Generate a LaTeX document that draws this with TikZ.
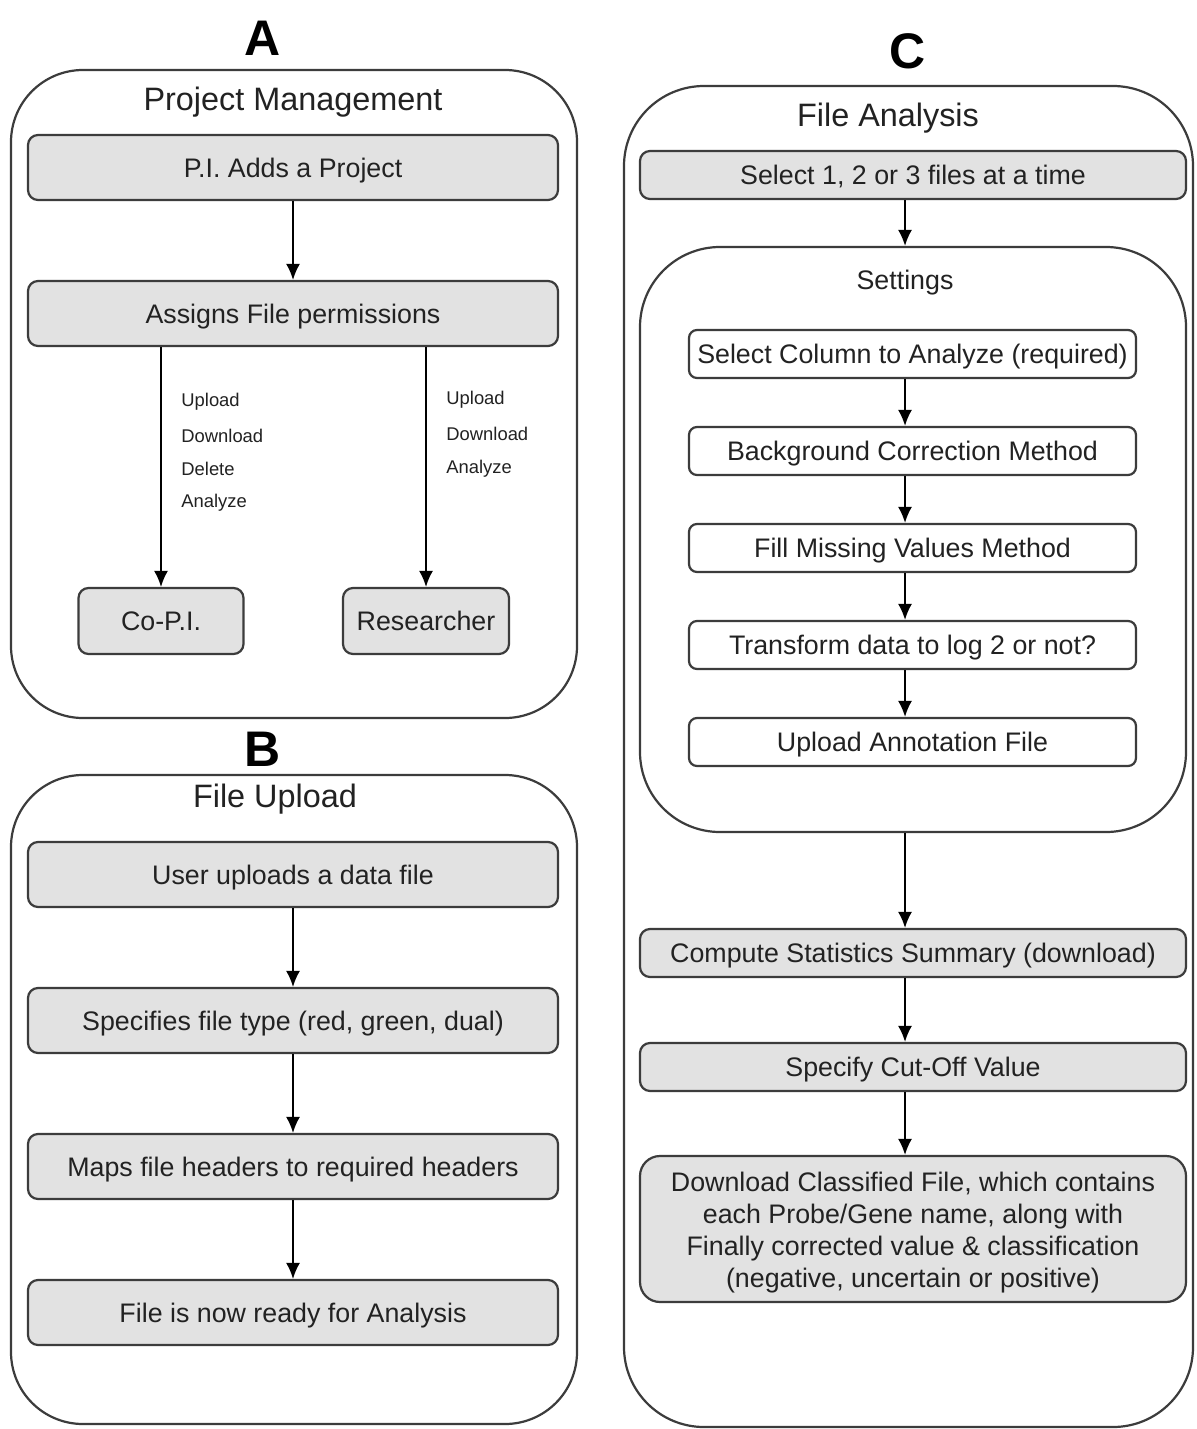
\documentclass[tikz,border=0pt]{standalone}
\usepackage{fontspec}
\setmainfont{Liberation Sans}
\usetikzlibrary{arrows.meta}
\definecolor{linec}{HTML}{3C3C3C}
\definecolor{boxfill}{HTML}{E2E2E2}
\definecolor{txt}{HTML}{222222}
\tikzset{
  panel/.style={draw=linec, line width=1.1pt, rounded corners=36pt, inner sep=0pt},
  setpanel/.style={draw=linec, line width=1.1pt, rounded corners=40pt, inner sep=0pt},
  graybase/.style={draw=linec, fill=boxfill, line width=1.1pt, rounded corners=5pt, inner sep=0pt, text=txt, font=\fontsize{13.4}{16}\selectfont, align=center},
  graybox/.style={graybase, text height=9.6pt, text depth=0pt},
  whitebox/.style={draw=linec, fill=white, line width=1.1pt, rounded corners=4pt, inner sep=0pt, text=txt, font=\fontsize{13.4}{16}\selectfont, text height=9.6pt, text depth=0pt},
  ptitle/.style={text=txt, font=\fontsize{16.2}{19}\selectfont, inner sep=0pt},
  stitle/.style={text=txt, font=\fontsize{13.4}{16}\selectfont, inner sep=0pt},
  letter/.style={text=black, font=\fontsize{25}{30}\selectfont\bfseries, inner sep=0pt},
  perm/.style={text=txt, font=\fontsize{9.2}{11}\selectfont, inner sep=0pt, anchor=west},
  arr/.style={draw=black, line width=0.9pt, -{Latex[length=8pt,width=7pt]}}
}
\begin{document}
\begin{tikzpicture}[x=0.5pt,y=-0.5pt]
\useasboundingbox (0,0) rectangle (1196,1429);
\fill[white] (0,0) rectangle (1196,1429);

% ---------------- Panel A ----------------
\node[letter] (labA) at (263,38) {A};
\node[panel, minimum width=283pt, minimum height=324pt] (boxA) at (294,394) {};
\node[ptitle] (titA) at (293,102) {Project Management};
\node[graybox, minimum width=265pt, minimum height=32.5pt] (pi) at (293,167.5) {P.I. Adds a Project};
\node[graybox, minimum width=265pt, minimum height=32.5pt] (assign) at (293,313.5) {Assigns File permissions};
\node[graybox, minimum width=82.5pt, minimum height=33pt] (copi) at (161,621) {Co-P.I.};
\node[graybox, minimum width=83pt, minimum height=33pt] (res) at (426,621) {Researcher};
\draw[arr] (pi.south) -- (assign.north);
\draw[arr] (copi.north |- assign.south) -- (copi.north);
\draw[arr] (res.north |- assign.south) -- (res.north);
\node[perm] (p1) at (181,402) {Upload};
\node[perm] (p2) at (181,436) {Download};
\node[perm] (p3) at (181,469) {Delete};
\node[perm] (p4) at (181,503) {Analyze};
\node[perm] (q1) at (446,400) {Upload};
\node[perm] (q2) at (446,434) {Download};
\node[perm] (q3) at (446,469) {Analyze};

% ---------------- Panel B ----------------
\node[letter] (labB) at (263,749) {B};
\node[panel, minimum width=283pt, minimum height=324.5pt] (boxB) at (294,1099.5) {};
\node[ptitle] (titB) at (275,799) {File Upload};
\node[graybox, minimum width=265pt, minimum height=32.5pt] (b1) at (293,874.5) {User uploads a data file};
\node[graybox, minimum width=265pt, minimum height=32.5pt] (b2) at (293,1020.5) {Specifies file type (red, green, dual)};
\node[graybox, minimum width=265pt, minimum height=32.5pt] (b3) at (293,1166.5) {Maps file headers to required headers};
\node[graybox, minimum width=265pt, minimum height=32.5pt] (b4) at (293,1312.5) {File is now ready for Analysis};
\draw[arr] (b1.south) -- (b2.north);
\draw[arr] (b2.south) -- (b3.north);
\draw[arr] (b3.south) -- (b4.north);

% ---------------- Panel C ----------------
\node[letter] (labC) at (908,51) {C};
\node[panel, rounded corners=40pt, minimum width=284.5pt, minimum height=670.5pt] (boxC) at (908.5,756.5) {};
\node[ptitle] (titC) at (888,118) {File Analysis};
\node[graybox, minimum width=273pt, minimum height=24pt] (sel) at (913,175) {Select 1, 2 or 3 files at a time};
\node[setpanel, minimum width=273pt, minimum height=292.5pt] (set) at (913,539.5) {};
\node[stitle] (titS) at (905,283) {Settings};
\node[whitebox, minimum width=223.5pt, minimum height=24pt] (s1) at (912.5,354) {Select Column to Analyze (required)};
\node[whitebox, minimum width=223.5pt, minimum height=24pt] (s2) at (912.5,451) {Background Correction Method};
\node[whitebox, minimum width=223.5pt, minimum height=24pt] (s3) at (912.5,548) {Fill Missing Values Method};
\node[whitebox, minimum width=223.5pt, minimum height=24pt] (s4) at (912.5,645) {Transform data to log 2 or not?};
\node[whitebox, minimum width=223.5pt, minimum height=24pt] (s5) at (912.5,742) {Upload Annotation File};
\node[graybox, minimum width=273pt, minimum height=24pt] (c1) at (913,953) {Compute Statistics Summary (download)};
\node[graybox, minimum width=273pt, minimum height=24pt] (c2) at (913,1067) {Specify Cut-Off Value};
\node[graybase, rounded corners=10pt, minimum width=273pt, minimum height=73pt] (c3) at (913,1229) {\rule{0pt}{13.5pt}Download Classified File, which contains\\each Probe/Gene name, along with\\Finally corrected value \& classification\\(negative, uncertain or positive)};
\coordinate (cx) at (905,0);
\draw[arr] (sel.south -| cx) -- (set.north -| cx);
\draw[arr] (s1.south -| cx) -- (s2.north -| cx);
\draw[arr] (s2.south -| cx) -- (s3.north -| cx);
\draw[arr] (s3.south -| cx) -- (s4.north -| cx);
\draw[arr] (s4.south -| cx) -- (s5.north -| cx);
\draw[arr] (set.south -| cx) -- (c1.north -| cx);
\draw[arr] (c1.south -| cx) -- (c2.north -| cx);
\draw[arr] (c2.south -| cx) -- (c3.north -| cx);
\end{tikzpicture}
\end{document}
